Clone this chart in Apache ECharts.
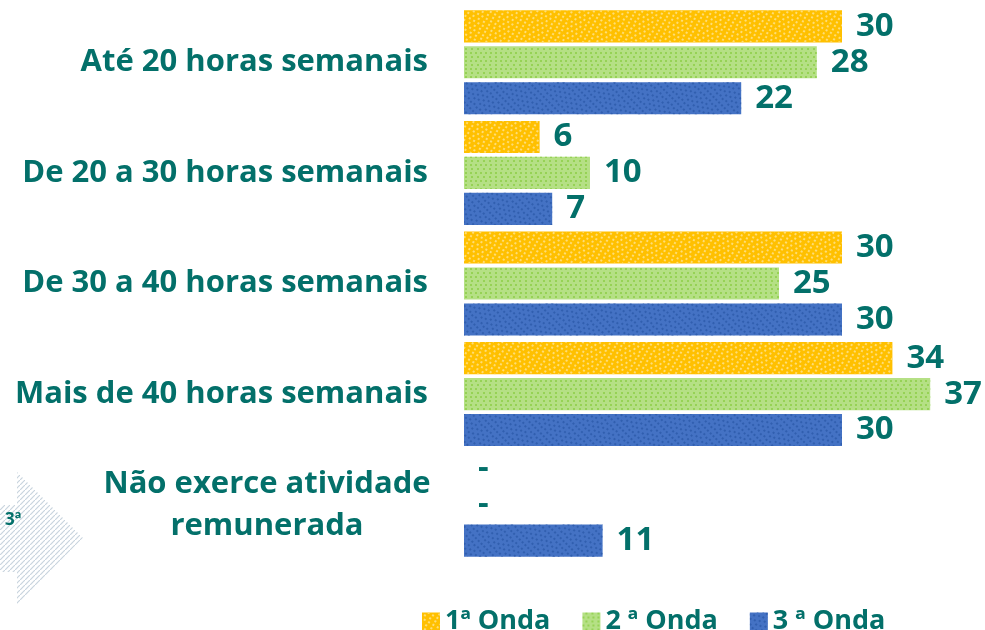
<!DOCTYPE html>
<html>
  <head>
    <meta charset="utf-8" />
    <title>Horas semanais por onda</title>
    <script src="https://cdn.jsdelivr.net/npm/echarts@6/dist/echarts.min.js"></script>
  </head>
  <body style="margin: 0">
    <div id="main" style="width: 985px; height: 630px"></div>
    <script type="text/javascript">
      var categories = [
        'Até 20 horas semanais',
        'De 20 a 30 horas semanais',
        'De 30 a 40 horas semanais',
        'Mais de 40 horas semanais',
        'Não exerce atividade\nremunerada'
      ];
      var onda1 = [30, 6, 30, 34, 0];
      var onda2 = [28, 10, 25, 37, 0];
      var onda3 = [22, 7, 30, 30, 11];
      var seriesNames = ['1ª Onda', '2 ª Onda', '3 ª Onda'];

      var teal = '#03706a';
      var font = 'Open Sans';

      // canvas for the hatched decoration in the corner
      var hatch = document.createElement('canvas');
      hatch.width = hatch.height = 5;
      var hctx = hatch.getContext('2d');
      hctx.strokeStyle = '#c9d4de';
      hctx.lineWidth = 1.2;
      hctx.beginPath();
      hctx.moveTo(0, 5);
      hctx.lineTo(5, 0);
      hctx.stroke();

      var chartDom = document.getElementById('main');
      var myChart = echarts.init(chartDom);

      function dots(c) {
        return {
          symbol: 'rect',
          symbolSize: 1,
          dashArrayX: [[2, 3], [0, 2.5, 2, 0.5]],
          dashArrayY: [2, 2],
          color: c
        };
      }

      var barLabel = {
        show: true,
        position: 'right',
        distance: 14,
        color: teal,
        fontFamily: font,
        fontWeight: 'bold',
        fontSize: 33,
        formatter: function (p) {
          return p.value === 0 ? '-' : p.value;
        }
      };

      var option = {
        animation: false,
        aria: { enabled: true, decal: { show: true } },
        legend: {
          left: 417,
          top: 603,
          itemWidth: 18,
          itemHeight: 18,
          itemGap: 32,
          icon: 'rect',
          textStyle: {
            color: teal,
            fontFamily: font,
            fontWeight: 'bold',
            fontSize: 27
          },
          data: seriesNames
        },
        grid: {
          left: 464,
          top: 7,
          right: 17,
          bottom: 70
        },
        xAxis: {
          type: 'value',
          min: 0,
          max: 40,
          show: false,
          splitLine: { show: false }
        },
        yAxis: {
          type: 'category',
          inverse: true,
          data: categories,
          axisLine: { show: false },
          axisTick: { show: false },
          axisLabel: {
            margin: 36,
            color: teal,
            fontFamily: font,
            fontWeight: 'bold',
            fontSize: 31,
            formatter: function (v) {
              if (v.indexOf('\n') < 0) return v;
              return v.split('\n').map(function (s) {
                return '{c|' + s + '}';
              }).join('\n');
            },
            rich: {
              c: {
                width: 322,
                align: 'center',
                lineHeight: 42,
                color: teal,
                fontFamily: font,
                fontWeight: 'bold',
                fontSize: 31
              }
            }
          }
        },
        graphic: [
          {
            type: 'polygon',
            silent: true,
            shape: {
              points: [[17, 472], [83, 538], [17, 605], [17, 572], [0, 572], [0, 505], [17, 505]]
            },
            style: { fill: { image: hatch, repeat: 'repeat' } }
          },
          {
            type: 'text',
            left: 5,
            top: 512,
            style: {
              text: '3ª',
              fill: teal,
              font: 'bold 17px "Open Sans"'
            }
          }
        ],
        series: [
          {
            name: seriesNames[0],
            type: 'bar',
            barGap: '12%',
            barCategoryGap: '6%',
            itemStyle: { color: '#ffc000', decal: dots('rgba(255,224,130,0.9)') },
            label: barLabel,
            data: onda1
          },
          {
            name: seriesNames[1],
            type: 'bar',
            itemStyle: { color: '#b5e085', decal: dots('rgba(146,208,80,0.9)') },
            label: barLabel,
            data: onda2
          },
          {
            name: seriesNames[2],
            type: 'bar',
            itemStyle: { color: '#4472c4', decal: dots('rgba(44,90,170,0.8)') },
            label: barLabel,
            data: onda3
          }
        ]
      };

      option && myChart.setOption(option);
    </script>
  </body>
</html>
